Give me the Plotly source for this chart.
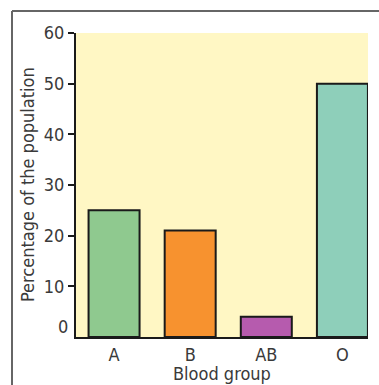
import plotly.graph_objects as go

# Blood group distribution
groups = ["A", "B", "AB", "O"]
percentages = [25, 21, 4, 50]
bar_colors = ["#8fc98f", "#f7922f", "#b65bae", "#8ecfba"]
y_ticks = [10, 20, 30, 40, 50, 60]

font_family = "DejaVu Sans Condensed, sans-serif"
text_color = "#3a3a3a"
plot_w, plot_h = 292, 304

fig = go.Figure()
fig.add_trace(go.Bar(
    x=groups,
    y=percentages,
    marker=dict(color=bar_colors, line=dict(color="#1a1a1a", width=2)),
    hoverinfo="skip",
))

fig.update_layout(
    width=379,
    height=385,
    margin=dict(l=76, r=11, t=33, b=48),
    paper_bgcolor="white",
    plot_bgcolor="#fff7c4",
    bargap=0.33,
    showlegend=False,
    font=dict(family=font_family, size=18, color=text_color),
    xaxis=dict(
        range=[-0.5, 3.336],
        showgrid=False,
        zeroline=False,
        showline=True,
        linecolor="#1a1a1a",
        linewidth=2,
        ticks="",
        tickfont=dict(size=18, color=text_color),
    ),
    yaxis=dict(
        range=[0, 60],
        tickvals=y_ticks,
        showgrid=False,
        zeroline=False,
        showline=True,
        linecolor="#1a1a1a",
        linewidth=2,
        ticks="outside",
        ticklen=6,
        tickwidth=1.5,
        tickcolor="#1a1a1a",
        tickfont=dict(size=18, color=text_color),
    ),
)

# axis titles
fig.add_annotation(
    x=0.5, xref="paper", y=-36 / plot_h, yref="paper",
    text="Blood group", showarrow=False,
    xanchor="center", yanchor="middle",
    font=dict(size=18, color=text_color, family=font_family),
)
fig.add_annotation(
    x=-49 / plot_w, xref="paper", y=0.5, yref="paper",
    text="Percentage of the population", showarrow=False, textangle=-90,
    xanchor="center", yanchor="middle",
    font=dict(size=18, color=text_color, family=font_family),
)

# zero label sits a little above the baseline, without a tick
fig.add_annotation(
    x=0, xref="paper", y=0, yref="y",
    text="0", showarrow=False,
    xanchor="right", yanchor="middle",
    xshift=-6, yshift=11,
    font=dict(size=18, color=text_color, family=font_family),
)

# outer frame: top and left rules
fig.add_shape(type="line", xref="paper", yref="paper",
              x0=-64 / plot_w, x1=1.05, y0=1 + 22 / plot_h, y1=1 + 22 / plot_h,
              line=dict(color="#666666", width=2))
fig.add_shape(type="line", xref="paper", yref="paper",
              x0=-64 / plot_w, x1=-64 / plot_w, y0=1 + 22 / plot_h, y1=-0.2,
              line=dict(color="#666666", width=2))

fig.write_html("out.html")
